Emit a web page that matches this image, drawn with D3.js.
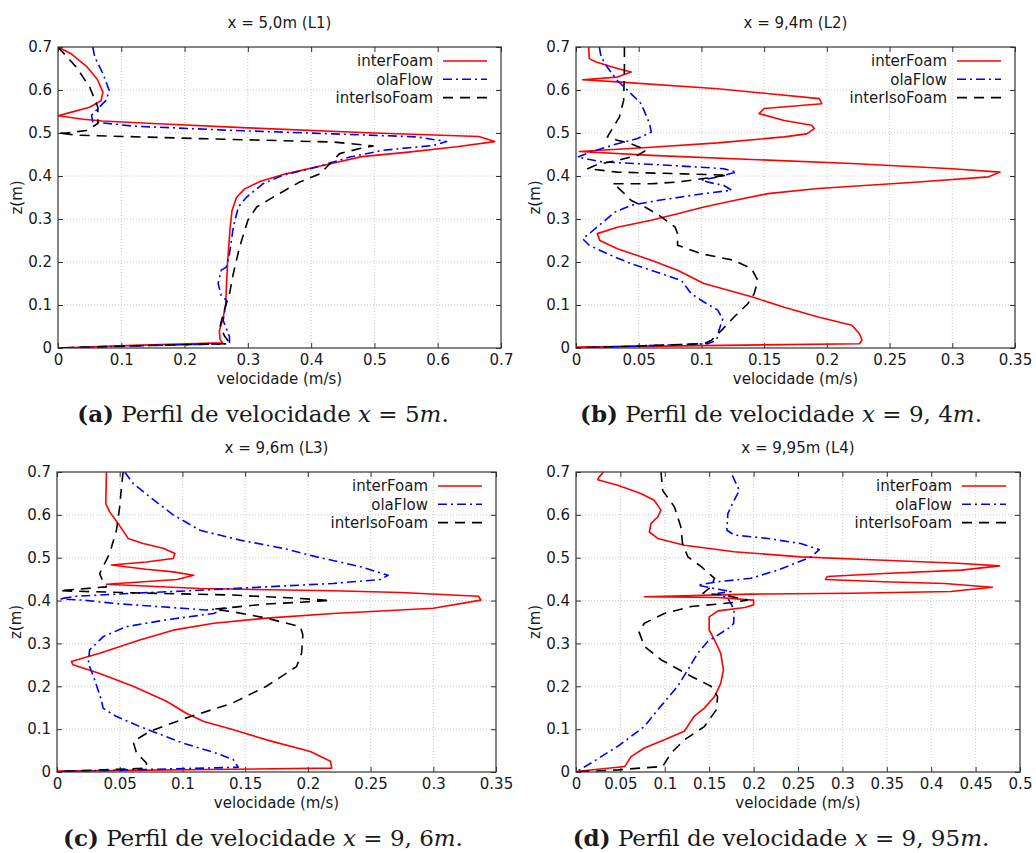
<!DOCTYPE html>
<html>
<head>
<meta charset="utf-8">
<script src="https://cdn.jsdelivr.net/npm/d3@7"></script>
<style>
  body { margin: 0; background: #fff; }
  text { font-family: "DejaVu Sans", sans-serif; fill: #1a1a1a; }
  text.cap { font-family: "DejaVu Serif", serif; }
</style>
</head>
<body>
<div id="chart-area"></div>
<script>
// series names, in legend order
var seriesNames = ["interFoam", "olaFlow", "interIsoFoam"];

// velocity profiles: [velocidade (m/s), z (m)]
// L1 - x = 5,0m
var l1InterFoam = [[0,0.70],[0.02,0.685],[0.045,0.655],[0.062,0.625],[0.071,0.595],[0.068,0.575],[0.05,0.56],[0.02,0.548],[0,0.54],[0.04,0.532],[0.07,0.528],[0.15,0.522],[0.3,0.512],[0.5,0.5],[0.665,0.492],[0.69,0.48],[0.63,0.468],[0.55,0.455],[0.48,0.445],[0.42,0.425],[0.36,0.405],[0.32,0.388],[0.295,0.37],[0.282,0.35],[0.275,0.32],[0.272,0.28],[0.268,0.2],[0.266,0.14],[0.265,0.1],[0.26,0.065],[0.255,0.04],[0.256,0.02],[0.26,0.012],[0.12,0.006],[0,0]];
var l1OlaFlow = [[0.055,0.7],[0.058,0.677],[0.071,0.638],[0.081,0.599],[0.076,0.576],[0.063,0.557],[0.053,0.541],[0.055,0.526],[0.119,0.516],[0.277,0.506],[0.435,0.498],[0.567,0.491],[0.614,0.48],[0.593,0.471],[0.514,0.46],[0.461,0.444],[0.409,0.421],[0.356,0.402],[0.324,0.382],[0.298,0.351],[0.285,0.328],[0.277,0.281],[0.271,0.219],[0.266,0.188],[0.258,0.181],[0.253,0.15],[0.258,0.122],[0.266,0.111],[0.261,0.064],[0.271,0.026],[0.271,0.01],[0.12,0.005],[0,0]];
var l1InterIsoFoam = [[0,0.7],[0.029,0.653],[0.05,0.607],[0.063,0.56],[0.063,0.522],[0.045,0.506],[0.013,0.5],[0,0.5],[0.029,0.495],[0.224,0.487],[0.435,0.479],[0.498,0.47],[0.477,0.464],[0.445,0.452],[0.43,0.429],[0.414,0.405],[0.382,0.386],[0.34,0.351],[0.314,0.328],[0.3,0.297],[0.287,0.235],[0.277,0.173],[0.271,0.126],[0.261,0.08],[0.256,0.049],[0.264,0.026],[0.272,0.01],[0.12,0.005],[0,0]];

// L2 - x = 9,4m
var l2InterFoam = [[0.0101,0.7],[0.0106,0.673],[0.016,0.665],[0.033,0.65],[0.044,0.642],[0.033,0.63],[0.0053,0.624],[0.033,0.619],[0.113,0.603],[0.194,0.58],[0.196,0.568],[0.15,0.557],[0.146,0.545],[0.166,0.529],[0.188,0.518],[0.19,0.51],[0.184,0.498],[0.166,0.491],[0.113,0.477],[0.06,0.467],[0.0027,0.457],[0.06,0.448],[0.22,0.429],[0.3,0.417],[0.338,0.409],[0.329,0.398],[0.273,0.386],[0.193,0.371],[0.153,0.359],[0.126,0.343],[0.102,0.328],[0.081,0.312],[0.06,0.297],[0.033,0.281],[0.017,0.266],[0.019,0.25],[0.033,0.231],[0.06,0.204],[0.081,0.181],[0.102,0.15],[0.14,0.119],[0.166,0.095],[0.193,0.072],[0.22,0.053],[0.226,0.033],[0.228,0.018],[0.226,0.01],[0,0.002]];
var l2OlaFlow = [[0.0186,0.7],[0.02,0.677],[0.025,0.653],[0.033,0.622],[0.044,0.591],[0.052,0.568],[0.0586,0.522],[0.06,0.502],[0.049,0.487],[0.033,0.475],[0.012,0.456],[0.0013,0.444],[0.02,0.433],[0.073,0.425],[0.118,0.417],[0.128,0.409],[0.113,0.398],[0.1,0.39],[0.108,0.384],[0.118,0.378],[0.124,0.367],[0.102,0.359],[0.065,0.343],[0.044,0.332],[0.031,0.316],[0.02,0.289],[0.0106,0.266],[0.0053,0.254],[0.0106,0.239],[0.025,0.219],[0.044,0.196],[0.068,0.173],[0.084,0.157],[0.092,0.126],[0.102,0.107],[0.113,0.088],[0.117,0.068],[0.114,0.041],[0.112,0.018],[0.105,0.01],[0,0]];
var l2InterIsoFoam = [[0.0386,0.7],[0.0386,0.65],[0.038,0.576],[0.0346,0.537],[0.029,0.51],[0.025,0.491],[0.033,0.483],[0.044,0.475],[0.056,0.46],[0.049,0.448],[0.033,0.436],[0.017,0.427],[0.0093,0.417],[0.033,0.409],[0.086,0.405],[0.121,0.402],[0.102,0.394],[0.081,0.386],[0.06,0.382],[0.029,0.382],[0.033,0.374],[0.0386,0.359],[0.044,0.343],[0.055,0.328],[0.068,0.305],[0.079,0.281],[0.081,0.266],[0.081,0.239],[0.1,0.219],[0.126,0.204],[0.14,0.184],[0.145,0.157],[0.142,0.126],[0.137,0.103],[0.126,0.072],[0.116,0.041],[0.108,0.018],[0.102,0.01],[0,0]];

// L3 - x = 9,6m
var l3InterFoam = [[0.0394,0.7],[0.0389,0.626],[0.042,0.607],[0.0487,0.58],[0.0567,0.545],[0.0687,0.533],[0.0846,0.522],[0.094,0.51],[0.0926,0.498],[0.071,0.49],[0.0434,0.483],[0.071,0.473],[0.0926,0.467],[0.109,0.459],[0.0958,0.449],[0.0687,0.444],[0.0394,0.438],[0.114,0.428],[0.22,0.423],[0.274,0.419],[0.336,0.41],[0.338,0.401],[0.3,0.382],[0.22,0.37],[0.167,0.359],[0.125,0.347],[0.0926,0.331],[0.066,0.308],[0.034,0.277],[0.0114,0.258],[0.0128,0.25],[0.034,0.23],[0.0607,0.2],[0.0873,0.165],[0.103,0.137],[0.117,0.118],[0.14,0.099],[0.167,0.075],[0.202,0.048],[0.218,0.025],[0.219,0.009],[0,0.002]];
var l3OlaFlow = [[0.054,0.7],[0.0607,0.673],[0.074,0.642],[0.0926,0.6],[0.114,0.564],[0.146,0.541],[0.18,0.522],[0.207,0.502],[0.242,0.479],[0.264,0.459],[0.2576,0.449],[0.22,0.44],[0.167,0.432],[0.114,0.424],[0.0607,0.417],[0.0154,0.41],[0.002,0.404],[0.0208,0.401],[0.047,0.393],[0.1,0.382],[0.119,0.378],[0.135,0.382],[0.125,0.37],[0.087,0.355],[0.055,0.339],[0.037,0.316],[0.026,0.285],[0.025,0.254],[0.03,0.215],[0.0354,0.168],[0.0367,0.149],[0.047,0.13],[0.066,0.106],[0.1,0.068],[0.127,0.044],[0.1405,0.029],[0.1445,0.011],[0,0.001]];
var l3InterIsoFoam = [[0.0527,0.7],[0.0514,0.665],[0.05,0.619],[0.0474,0.564],[0.042,0.51],[0.034,0.463],[0.0367,0.444],[0.0394,0.432],[0.002,0.423],[0.0607,0.418],[0.14,0.413],[0.194,0.405],[0.218,0.4],[0.167,0.392],[0.125,0.38],[0.14,0.374],[0.167,0.359],[0.194,0.339],[0.196,0.32],[0.195,0.277],[0.191,0.246],[0.167,0.2],[0.14,0.161],[0.103,0.126],[0.074,0.095],[0.0607,0.071],[0.0634,0.044],[0.0713,0.021],[0.0713,0.009],[0,0.001]];

// L4 - x = 9,95m
var l4InterFoam = [[0.031,0.7],[0.026,0.688],[0.0244,0.682],[0.047,0.669],[0.073,0.65],[0.088,0.634],[0.0957,0.611],[0.092,0.595],[0.0845,0.58],[0.0826,0.56],[0.092,0.545],[0.122,0.529],[0.178,0.514],[0.253,0.502],[0.347,0.494],[0.43,0.487],[0.477,0.481],[0.434,0.471],[0.347,0.463],[0.283,0.456],[0.281,0.449],[0.347,0.444],[0.415,0.44],[0.469,0.431],[0.422,0.421],[0.31,0.417],[0.197,0.415],[0.077,0.409],[0.16,0.407],[0.2,0.401],[0.2,0.39],[0.19,0.384],[0.16,0.376],[0.15,0.362],[0.15,0.331],[0.156,0.308],[0.163,0.277],[0.166,0.238],[0.163,0.207],[0.156,0.176],[0.1445,0.149],[0.133,0.13],[0.128,0.114],[0.122,0.095],[0.0995,0.075],[0.077,0.056],[0.062,0.036],[0.055,0.013],[0,0.001]];
var l4OlaFlow = [[0.176,0.692],[0.184,0.657],[0.178,0.634],[0.171,0.603],[0.17,0.564],[0.178,0.553],[0.216,0.545],[0.253,0.533],[0.274,0.519],[0.265,0.502],[0.227,0.471],[0.197,0.452],[0.16,0.444],[0.137,0.436],[0.156,0.428],[0.1745,0.421],[0.16,0.417],[0.171,0.405],[0.1745,0.393],[0.178,0.378],[0.1776,0.347],[0.1745,0.339],[0.148,0.304],[0.137,0.277],[0.1258,0.238],[0.1145,0.2],[0.092,0.145],[0.077,0.106],[0.047,0.06],[0.017,0.021],[0,0]];
var l4InterIsoFoam = [[0.0957,0.7],[0.0976,0.657],[0.111,0.618],[0.118,0.572],[0.12,0.533],[0.126,0.502],[0.141,0.479],[0.156,0.452],[0.152,0.432],[0.143,0.417],[0.167,0.413],[0.193,0.401],[0.175,0.395],[0.13,0.386],[0.0995,0.37],[0.077,0.347],[0.071,0.327],[0.077,0.293],[0.0957,0.262],[0.13,0.223],[0.152,0.2],[0.1595,0.176],[0.158,0.145],[0.1445,0.106],[0.122,0.075],[0.107,0.044],[0.0976,0.013],[0.047,0.005],[0,0]];

// axes
var zTicks = [0, 0.1, 0.2, 0.3, 0.4, 0.5, 0.6, 0.7];
var vTicksA = [0, 0.1, 0.2, 0.3, 0.4, 0.5, 0.6, 0.7];
var vTicksB = [0, 0.05, 0.1, 0.15, 0.2, 0.25, 0.3, 0.35];
var vTicksD = [0, 0.05, 0.1, 0.15, 0.2, 0.25, 0.3, 0.35, 0.4, 0.45, 0.5];

var titles = ["x = 5,0m (L1)", "x = 9,4m (L2)", "x = 9,6m (L3)", "x = 9,95m (L4)"];
var captionLetters = ["(a)", "(b)", "(c)", "(d)"];
var captionValues = ["5", "9, 4", "9, 6", "9, 95"];

var colors = ["#ff0000", "#0000ff", "#000000"];
var dashes = [null, "9,4,2,4", "10,7"];

var panels = [
    {box: [58, 501, 47, 348], capX: 263, ticks: vTicksA, series: [l1InterFoam, l1OlaFlow, l1InterIsoFoam]},
    {box: [576, 1015, 47, 348], capX: 781, ticks: vTicksB, series: [l2InterFoam, l2OlaFlow, l2InterIsoFoam]},
    {box: [57, 496, 472, 772], capX: 263, ticks: vTicksB, series: [l3InterFoam, l3OlaFlow, l3InterIsoFoam]},
    {box: [576, 1020, 472, 772], capX: 781, ticks: vTicksD, series: [l4InterFoam, l4OlaFlow, l4InterIsoFoam]}
];

var svg = d3.select("#chart-area")
    .append("svg")
    .attr("width", 1036)
    .attr("height", 853);

var fmt = (d) => String(d);

panels.forEach((p, i) => {
    var left = p.box[0], right = p.box[1], top = p.box[2], bottom = p.box[3];
    var w = right - left, h = bottom - top;
    var x = d3.scaleLinear().domain([p.ticks[0], p.ticks[p.ticks.length - 1]]).range([left, right]);
    var y = d3.scaleLinear().domain([0, 0.7]).range([bottom, top]);
    var g = svg.append("g");

    // dotted grid
    var grid = g.append("g").attr("class", "grid");
    grid.selectAll(".gx").data(p.ticks.slice(1, -1)).enter()
        .append("line")
            .attr("x1", (d) => x(d)).attr("x2", (d) => x(d))
            .attr("y1", top).attr("y2", bottom);
    grid.selectAll(".gy").data(zTicks.slice(1, -1)).enter()
        .append("line")
            .attr("y1", (d) => y(d)).attr("y2", (d) => y(d))
            .attr("x1", left).attr("x2", right);
    grid.selectAll("line")
        .attr("stroke", "#bdbdbd")
        .attr("stroke-width", 0.8)
        .attr("stroke-dasharray", "1,2");

    // axes with inward ticks on all sides
    var ax = [
        g.append("g").attr("transform", "translate(0," + bottom + ")")
            .call(d3.axisBottom(x).tickValues(p.ticks).tickFormat(fmt).tickSize(-5).tickPadding(6)),
        g.append("g").attr("transform", "translate(" + left + ",0)")
            .call(d3.axisLeft(y).tickValues(zTicks).tickFormat(fmt).tickSize(-5).tickPadding(6)),
        g.append("g").attr("transform", "translate(0," + top + ")")
            .call(d3.axisTop(x).tickValues(p.ticks).tickFormat("").tickSize(-5)),
        g.append("g").attr("transform", "translate(" + right + ",0)")
            .call(d3.axisRight(y).tickValues(zTicks).tickFormat("").tickSize(-5))
    ];
    ax.forEach((a) => {
        a.select(".domain").remove();
        a.selectAll("line").attr("stroke", "#333").attr("stroke-width", 1);
        a.selectAll("text").attr("font-size", 15).attr("fill", "#1a1a1a")
            .attr("font-family", "DejaVu Sans");
    });

    // clip
    var clipId = "clip" + i;
    svg.append("clipPath").attr("id", clipId)
        .append("rect").attr("x", left).attr("y", top).attr("width", w).attr("height", h);

    var line = d3.line().x((d) => x(d[0])).y((d) => y(d[1]));
    g.append("g").attr("clip-path", "url(#" + clipId + ")")
        .selectAll("path").data(p.series).enter()
        .append("path")
            .attr("d", line)
            .attr("fill", "none")
            .attr("stroke", (d, k) => colors[k])
            .attr("stroke-width", 1.6)
            .attr("stroke-linejoin", "round")
            .attr("stroke-dasharray", (d, k) => dashes[k]);

    // frame
    g.append("rect")
        .attr("x", left).attr("y", top).attr("width", w).attr("height", h)
        .attr("fill", "none").attr("stroke", "#333").attr("stroke-width", 1.2);

    // legend
    var leg = g.append("g").selectAll("g").data(seriesNames).enter().append("g")
        .attr("transform", (d, k) => "translate(0," + (top + 14 + k * 18.3) + ")");
    leg.append("text")
        .attr("x", right - 68).attr("dy", "0.35em")
        .attr("text-anchor", "end").attr("font-size", 15)
        .text((d) => d);
    leg.append("line")
        .attr("x1", right - 58).attr("x2", right - 14)
        .attr("stroke", (d, k) => colors[k])
        .attr("stroke-width", 1.6)
        .attr("stroke-dasharray", (d, k) => dashes[k]);

    var cx = (left + right) / 2;
    // title
    g.append("text").attr("x", cx).attr("y", top - 24).attr("dy", "0.35em")
        .attr("text-anchor", "middle").attr("font-size", 15)
        .text(titles[i]);
    // axis labels
    g.append("text").attr("x", cx).attr("y", bottom + 31).attr("dy", "0.35em")
        .attr("text-anchor", "middle").attr("font-size", 15)
        .text("velocidade (m/s)");
    g.append("text")
        .attr("transform", "translate(" + (left - 41) + "," + ((top + bottom) / 2) + ") rotate(-90)")
        .attr("dy", "0.35em")
        .attr("text-anchor", "middle").attr("font-size", 15)
        .text("z(m)");

    // caption
    var cap = g.append("text").attr("class", "cap")
        .attr("x", p.capX).attr("y", bottom + 74)
        .attr("text-anchor", "middle").attr("font-size", 23);
    cap.append("tspan").attr("font-weight", "bold").text(captionLetters[i]);
    cap.append("tspan").text(" Perfil de velocidade ");
    cap.append("tspan").attr("font-style", "italic").text("x");
    cap.append("tspan").text(" = " + captionValues[i]);
    cap.append("tspan").attr("font-style", "italic").text("m");
    cap.append("tspan").text(".");
});
</script>
</body>
</html>
